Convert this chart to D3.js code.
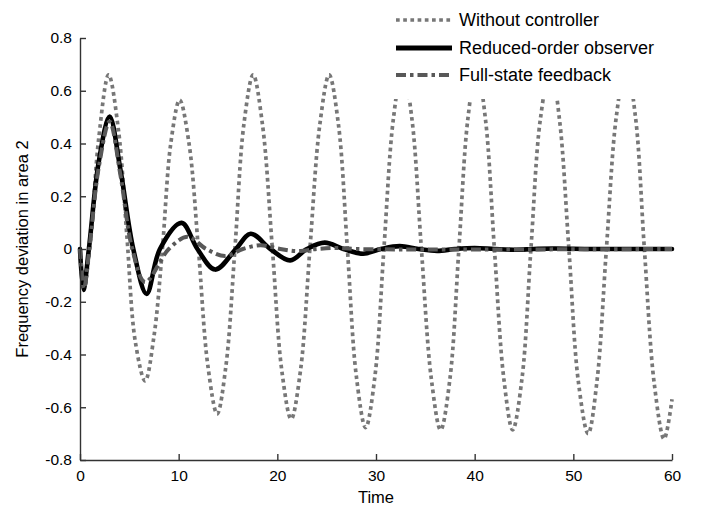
<!DOCTYPE html>
<html>
<head>
<meta charset="utf-8">
<script src="https://cdn.jsdelivr.net/npm/d3@7"></script>
<style>
  html, body { margin: 0; padding: 0; background: #fff; }
  svg { display: block; font-family: "Liberation Sans", Arial, Helvetica, sans-serif; }
</style>
</head>
<body>
<svg id="chart" width="709" height="512"></svg>
<script>
// [time, frequency deviation]
const withoutController = [
  [0, 0], [0.4, -0.15], [1.1, 0.05], [1.9, 0.42], [2.9, 0.66], [3.9, 0.45], [4.75, 0.05],
  [5.6, -0.35], [6.6, -0.5], [7.5, -0.33], [8.35, 0], [9.2, 0.4], [10.1, 0.565],
  [11.05, 0.4], [12.0, 0], [12.95, -0.44], [13.9, -0.625], [14.8, -0.44], [15.7, 0],
  [16.6, 0.47], [17.55, 0.66], [18.5, 0.47], [19.5, 0], [20.45, -0.46], [21.4, -0.645],
  [22.35, -0.46], [23.3, 0], [24.3, 0.47], [25.25, 0.66], [26.2, 0.47], [27.1, 0],
  [28.0, -0.48], [28.95, -0.677], [29.9, -0.48], [30.8, 0], [31.75, 0.49], [32.7, 0.69],
  [33.65, 0.49], [34.6, 0], [35.6, -0.49], [36.55, -0.686], [37.5, -0.49], [38.4, 0],
  [39.3, 0.49], [40.2, 0.69], [41.1, 0.49], [42.0, 0], [42.95, -0.49], [43.85, -0.686],
  [44.8, -0.49], [45.7, 0], [46.65, 0.49], [47.7, 0.69], [48.6, 0.49], [49.55, 0],
  [50.5, -0.5], [51.5, -0.70], [52.4, -0.5], [53.35, 0], [54.35, 0.5], [55.35, 0.70],
  [56.3, 0.5], [57.2, 0], [58.2, -0.51], [59.2, -0.72], [60, -0.57]
];

const reducedObserver = [
  [0, 0], [0.35, -0.155], [0.9, 0], [1.9, 0.33], [3.0, 0.502], [4.1, 0.3], [5.4, 0],
  [6.75, -0.17], [8.1, 0], [10.3, 0.099], [11.9, 0], [13.7, -0.078], [15.8, 0],
  [17.3, 0.058], [19.3, 0], [21.3, -0.043], [23.0, 0], [24.8, 0.024], [26.7, 0],
  [28.7, -0.018], [30.5, 0], [32.4, 0.011], [34.3, 0], [36.2, -0.007], [38.0, 0],
  [40.0, 0.004], [42.0, 0], [44.0, -0.003], [46.0, 0], [48.0, 0.002], [52.0, 0], [60, 0]
];

const fullState = [
  [0, 0], [0.4, -0.15], [0.95, 0], [1.9, 0.31], [3.0, 0.483], [4.1, 0.28], [5.3, 0],
  [6.6, -0.125], [9.0, 0], [10.9, 0.046], [12.8, 0], [14.7, -0.027], [16.5, 0],
  [18.3, 0.014], [20.3, 0], [22.0, -0.008], [24.0, 0], [26.0, 0.004], [28.0, 0], [60, 0]
];

const seriesNames = ["Without controller", "Reduced-order observer", "Full-state feedback"];
const yTicks = [-0.8, -0.6, -0.4, -0.2, 0, 0.2, 0.4, 0.6, 0.8];
const xTicks = [0, 10, 20, 30, 40, 50, 60];

const width = 709, height = 512;
const margin = { top: 38, right: 37, bottom: 52, left: 80 };
const innerW = width - margin.left - margin.right;
const innerH = height - margin.top - margin.bottom;

const svgRoot = d3.select("#chart");
const svg = svgRoot.append("g")
  .attr("transform", `translate(${margin.left},${margin.top})`);

const x = d3.scaleLinear().domain([0, 60]).range([0, innerW]);
const y = d3.scaleLinear().domain([-0.8, 0.8]).range([innerH, 0]);

const styles = [
  { stroke: "#777", width: 3.7, dash: "3.7,3.5", cap: "butt" },
  { stroke: "#000", width: 4.6, dash: null, cap: "round" },
  { stroke: "#585858", width: 4, dash: "10,4,3.5,4", cap: "butt" }
];

const line = d3.line()
  .x(d => x(d[0]))
  .y(d => y(d[1]))
  .curve(d3.curveCatmullRom.alpha(0.5));

[withoutController, reducedObserver, fullState].forEach((data, i) => {
  const s = styles[i];
  svg.append("path")
    .attr("d", line(data))
    .attr("fill", "none")
    .attr("stroke", s.stroke)
    .attr("stroke-width", s.width)
    .attr("stroke-linejoin", "round")
    .attr("stroke-linecap", s.cap)
    .attr("stroke-dasharray", s.dash);
});

// axes, ticks pointing inward
const axisColor = "#333";
svg.append("g")
  .attr("transform", `translate(0,${innerH})`)
  .call(d3.axisBottom(x).tickValues(xTicks).tickSize(-6).tickSizeOuter(0).tickPadding(10)
    .tickFormat(d3.format("d")))
  .call(g => g.selectAll("path, line").attr("stroke", axisColor).attr("stroke-width", 1.4))
  .call(g => g.selectAll("text").attr("fill", "#000").style("font-size", "15.5px"));

svg.append("g")
  .call(d3.axisLeft(y).tickValues(yTicks).tickSize(-6).tickSizeOuter(0).tickPadding(8)
    .tickFormat(d => d === 0 ? "0" : d.toFixed(1)))
  .call(g => g.selectAll("path, line").attr("stroke", axisColor).attr("stroke-width", 1.4))
  .call(g => g.selectAll("text").attr("fill", "#000").style("font-size", "15.5px"));

svg.append("text")
  .attr("x", innerW / 2)
  .attr("y", innerH + 43)
  .attr("text-anchor", "middle")
  .style("font-size", "16.5px")
  .text("Time");

svg.append("text")
  .attr("transform", `translate(${22 - margin.left},${innerH / 2}) rotate(-90)`)
  .attr("text-anchor", "middle")
  .attr("dy", "0.35em")
  .style("font-size", "16.5px")
  .text("Frequency deviation in area 2");

// legend with white background
const legend = svgRoot.append("g");
legend.append("rect")
  .attr("x", 385).attr("y", 0)
  .attr("width", width - 385).attr("height", 99)
  .attr("fill", "#fff");

const legendY = [20, 48, 75];
seriesNames.forEach((name, i) => {
  const s = styles[i];
  legend.append("line")
    .attr("x1", 396).attr("x2", 452)
    .attr("y1", legendY[i]).attr("y2", legendY[i])
    .attr("stroke", s.stroke)
    .attr("stroke-width", i === 1 ? 5 : s.width)
    .attr("stroke-dasharray", s.dash);
  legend.append("text")
    .attr("x", 459)
    .attr("y", legendY[i])
    .attr("dy", "0.35em")
    .style("font-size", "18px")
    .text(name);
});
</script>
</body>
</html>
